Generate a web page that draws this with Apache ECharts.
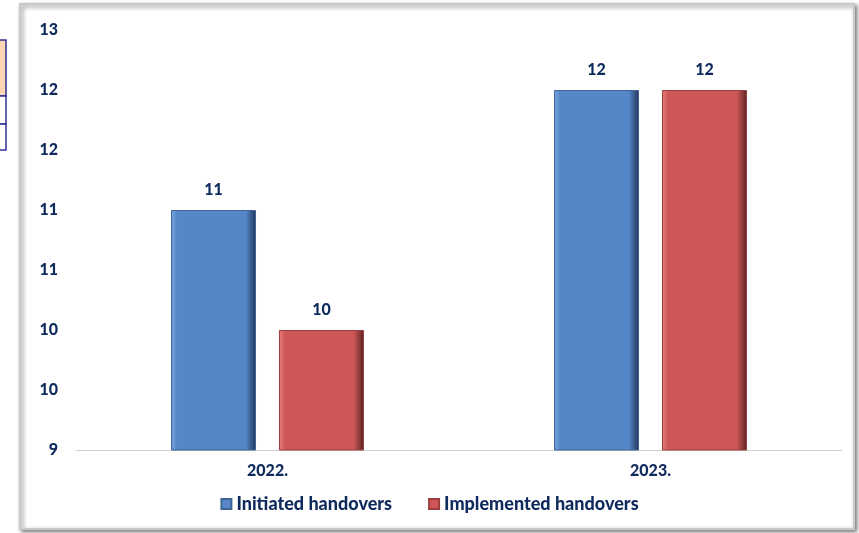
<!DOCTYPE html>
<html>
<head>
<meta charset="utf-8">
<script src="https://cdn.jsdelivr.net/npm/echarts@6/dist/echarts.min.js"></script>
<style>
  html, body { margin: 0; padding: 0; background: #fff; }
  #chart { width: 859px; height: 533px; }
</style>
</head>
<body>
<div id="chart"></div>
<script>
// 数据
const categories = ['2022.', '2023.'];
const initiated = [11, 12];
const implemented = [10, 12];
const seriesNames = ['Initiated handovers', 'Implemented handovers'];

const navy = '#0f2a5c';
const font = 'Lato, "Open Sans", sans-serif';

// 柱子渐变（模拟立体斜面效果）
function barGradient(light, base, dark) {
    return new echarts.graphic.LinearGradient(0, 0, 1, 0, [
        { offset: 0, color: light },
        { offset: 0.07, color: base },
        { offset: 0.88, color: base },
        { offset: 1, color: dark }
    ]);
}

const chart = echarts.init(document.getElementById('chart'));

const labelStyle = { color: navy, fontWeight: 900, fontSize: 16, fontFamily: font };

const option = {
    animation: false,
    textStyle: { fontFamily: font },
    graphic: [
        // 左侧表格残片
        { type: 'rect', shape: { x: -10, y: 40, width: 16, height: 56 },
          style: { fill: '#fcd5b4', stroke: '#2e3192', lineWidth: 1.5 } },
        { type: 'rect', shape: { x: -10, y: 96, width: 16, height: 28 },
          style: { fill: '#fff', stroke: '#2e3192', lineWidth: 1.5 } },
        { type: 'rect', shape: { x: -10, y: 124, width: 16, height: 26 },
          style: { fill: '#fff', stroke: '#2e3192', lineWidth: 1.5 } },
        // 图表外框
        { type: 'rect', z: -1, shape: { x: 20, y: 4, width: 834, height: 525 },
          style: { fill: '#fff', stroke: '#c8c8c8', lineWidth: 2,
                   shadowBlur: 4, shadowOffsetX: 2, shadowOffsetY: 2, shadowColor: 'rgba(0,0,0,0.5)' } }
    ],
    grid: { left: 76, right: 17, top: 30, bottom: 83 },
    legend: {
        bottom: 15,
        left: 'center',
        itemWidth: 10,
        itemHeight: 10,
        itemGap: 36,
        icon: 'rect',
        textStyle: { color: navy, fontWeight: 900, fontSize: 18, fontFamily: font },
        data: seriesNames
    },
    xAxis: {
        type: 'category',
        data: categories,
        axisLine: { lineStyle: { color: '#d0d0d0' } },
        axisTick: { show: false },
        axisLabel: Object.assign({ margin: 13 }, labelStyle)
    },
    yAxis: {
        type: 'value',
        min: 9,
        max: 12.5,
        interval: 0.5,
        splitLine: { show: false },
        axisLine: { show: false },
        axisTick: { show: false },
        axisLabel: Object.assign({
            margin: 18,
            formatter: v => String(Math.round(v))
        }, labelStyle)
    },
    series: [
        {
            name: seriesNames[0],
            type: 'bar',
            data: initiated,
            barWidth: 85,
            barGap: '27%',
            itemStyle: {
                color: barGradient('#79a6e0', '#5587c8', '#22365a'),
                borderColor: '#3f6596',
                borderWidth: 1
            },
            label: Object.assign({ show: true, position: 'top', distance: 12 }, labelStyle)
        },
        {
            name: seriesNames[1],
            type: 'bar',
            data: implemented,
            barWidth: 85,
            itemStyle: {
                color: barGradient('#e8807e', '#cd5756', '#5a2222'),
                borderColor: '#9a3f3e',
                borderWidth: 1
            },
            label: Object.assign({ show: true, position: 'top', distance: 12 }, labelStyle)
        }
    ]
};

chart.setOption(option);
</script>
</body>
</html>
